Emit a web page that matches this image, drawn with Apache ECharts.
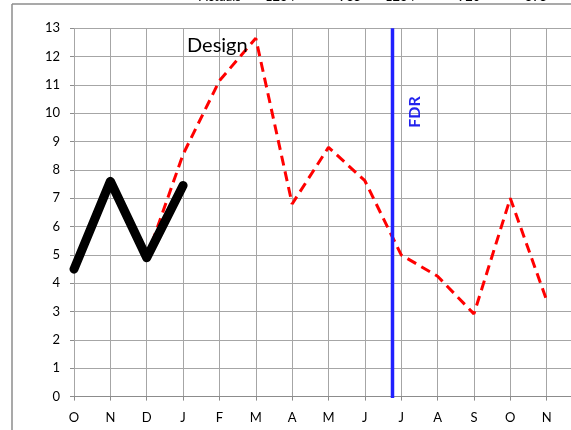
<!DOCTYPE html>
<html style="height: 100%">
<head>
	<meta charset="utf-8">
	<title></title>
	<script type="text/javascript" src="https://cdn.jsdelivr.net/npm/echarts@6/dist/echarts.min.js"></script>
</head>
<body style="height: 100%; margin: 0; background: #fff">
<div id="container" style="width: 571px; height: 430px"></div>
<script type="text/javascript">
	// months, last one sits just past the right edge
	var months = ['O', 'N', 'D', 'J', 'F', 'M', 'A', 'M', 'J', 'J', 'A', 'S', 'O', 'N', 'D'];
	var actuals = [4.5, 7.6, 4.9, 7.45];
	var design = [null, null, 4.9, 8.55, 11.15, 12.65, 6.8, 8.8, 7.62, 5.0, 4.25, 2.92, 7.0, 3.4];
	var fdrAt = 8.76;   // between J and J
	var fdrRange = [-0.05, 13];
	var topTexts = ['Actuals', '1234', '985', '1234', '920', '895'];
	var topTextX = [220, 280, 350, 400, 469, 536];

	var dom = document.getElementById('container');
	var myChart = echarts.init(dom);
	var font = 'Lato, "Open Sans", sans-serif';

	var graphics = [
		{type: 'line', shape: {x1: 12, y1: 4, x2: 12, y2: 430}, style: {stroke: '#8c8c8c', lineWidth: 1.5}, z: 10},
		{type: 'line', shape: {x1: 12, y1: 4, x2: 571, y2: 4}, style: {stroke: '#8c8c8c', lineWidth: 1.5}, z: 10},
		{type: 'text', left: 187, top: 36, style: {text: 'Design', font: '20px ' + font, fill: '#000'}, z: 20},
		{type: 'text', x: 415, y: 112, rotation: Math.PI / 2,
			style: {text: 'FDR', font: 'bold 16px ' + font, fill: '#2222ee', align: 'center', verticalAlign: 'middle'}, z: 20}
	];
	topTexts.forEach(function (t, i) {
		graphics.push({type: 'text', x: topTextX[i], y: 3,
			style: {text: t, font: '13px ' + font, fill: '#000', align: 'center', verticalAlign: 'bottom'}, z: 20});
	});

	var option = {
		animation: false,
		backgroundColor: '#fff',
		grid: {left: 74, top: 28.3, right: -12, bottom: 33.4, outerBoundsMode: 'none', containLabel: false},
		xAxis: [{
			type: 'category',
			data: months,
			boundaryGap: false,
			axisLine: {lineStyle: {color: '#8c8c8c', width: 1}},
			axisTick: {show: true, length: 4, lineStyle: {color: '#8c8c8c'}},
			axisLabel: {color: '#000', fontFamily: font, fontSize: 13, margin: 15},
			splitLine: {show: true, lineStyle: {color: '#a6a6a6', width: 1}}
		}, {
			type: 'value',
			min: 0,
			max: 14,
			show: false
		}],
		yAxis: {
			type: 'value',
			min: 0,
			max: 13,
			interval: 1,
			axisLine: {show: false},
			axisTick: {show: true, length: 4, lineStyle: {color: '#8c8c8c'}},
			axisLabel: {color: '#000', fontFamily: font, fontSize: 13, margin: 14},
			splitLine: {show: true, lineStyle: {color: '#a6a6a6', width: 1}}
		},
		graphic: graphics,
		series: [
			{
				name: 'Design',
				type: 'line',
				data: design,
				symbol: 'none',
				lineStyle: {color: '#ff0000', width: 3, type: [10, 6]},
				z: 3
			},
			{
				name: 'Actuals',
				type: 'line',
				data: actuals,
				symbol: 'none',
				lineStyle: {color: '#000', width: 9, cap: 'round', join: 'round'},
				z: 4
			},
			{
				name: 'FDR',
				type: 'line',
				xAxisIndex: 1,
				data: fdrRange.map(function (v) { return [fdrAt, v]; }),
				symbol: 'none',
				clip: false,
				lineStyle: {color: '#2020ff', width: 3.5},
				z: 5
			}
		]
	};
	myChart.setOption(option);
</script>
</body>
</html>
